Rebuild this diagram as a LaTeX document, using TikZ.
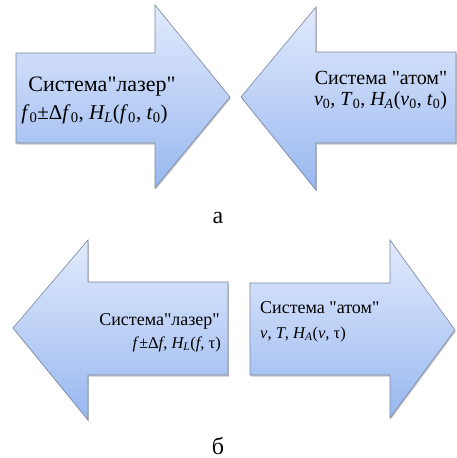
\documentclass[tikz,border=0pt]{standalone}
\usepackage{fontspec}
\setmainfont{Liberation Serif}[Ligatures=TeXOff]
\usetikzlibrary{shadows}
\definecolor{topblue}{RGB}{226,234,252}
\definecolor{botblue}{RGB}{152,184,240}
\definecolor{edgegray}{RGB}{120,132,160}
\newcommand\ssub[1]{\textsubscript{#1}}
\newcommand\iv[1]{\textit{#1}}
\tikzset{
  arrowshape/.style={draw=edgegray, line width=0.6pt, top color=topblue, bottom color=botblue,
    drop shadow={shadow xshift=0.8pt, shadow yshift=-1.6pt, opacity=0.35, fill=black!60}},
  lbl/.style={inner sep=0pt, font=\fontsize{21}{24}\selectfont},
  lbls/.style={inner sep=0pt, font=\fontsize{18}{21}\selectfont},
  lblt/.style={inner sep=0pt, font=\fontsize{16.5}{19}\selectfont},
  captext/.style={inner sep=0pt, font=\fontsize{24}{28}\selectfont}
}
\begin{document}
\begin{tikzpicture}[x=1pt,y=-1pt]
\useasboundingbox (0,0) rectangle (457,458);
% top-left arrow (right pointing)
\path[arrowshape] (16,53) -- (155,53) -- (155,5) -- (230,97) -- (155,188) -- (155,143) -- (16,143) -- cycle;
% top-right arrow (left pointing)
\path[arrowshape] (241,97) -- (316,7) -- (316,52) -- (456,52) -- (456,143) -- (316,143) -- (316,190) -- cycle;
% bottom-left arrow (left pointing)
\path[arrowshape] (13,328) -- (88,240) -- (88,282) -- (228,282) -- (228,375) -- (88,375) -- (88,420) -- cycle;
% bottom-right arrow (right pointing)
\path[arrowshape] (250,283) -- (390,283) -- (390,240) -- (455,330) -- (390,418) -- (390,375) -- (250,375) -- cycle;

\node[lbl, font=\fontsize{22}{25}\selectfont, anchor=base] (tl1) at (102,91) {Система"лазер"};
\node[lbl, anchor=base] (tl2) at (94.5,119) {\iv{f}\ssub{0}±Δ\iv{f}\ssub{0}, \iv{H\ssub{L}}(\iv{f}\ssub{0}, \iv{t}\ssub{0})};
\node[lbl, font=\fontsize{20}{23}\selectfont, anchor=base] (tr1) at (381,84) {Система "атом"};
\node[lbl, font=\fontsize{20}{23}\selectfont, anchor=base] (tr2) at (380.5,105) {\iv{v}\ssub{0}, \iv{T}\ssub{0}, \iv{H\ssub{A}}(\iv{v}\ssub{0}, \iv{t}\ssub{0})};
\node[lbls, anchor=base east] (bl1) at (220,325) {Система"лазер"};
\node[lblt, anchor=base east] (bl2) at (221,348) {\iv{f}±Δ\iv{f}, \iv{H\ssub{L}}(\iv{f}, τ)};
\node[lbls, anchor=base west] (br1) at (260,313) {Система "атом"};
\node[lblt, anchor=base west] (br2) at (260,338) {\iv{v}, \iv{T}, \iv{H\ssub{A}}(\iv{v}, τ)};
\node[captext, anchor=base] (ca) at (218,223) {а};
\node[captext, anchor=base] (cb) at (218,454) {б};
\end{tikzpicture}
\end{document}
